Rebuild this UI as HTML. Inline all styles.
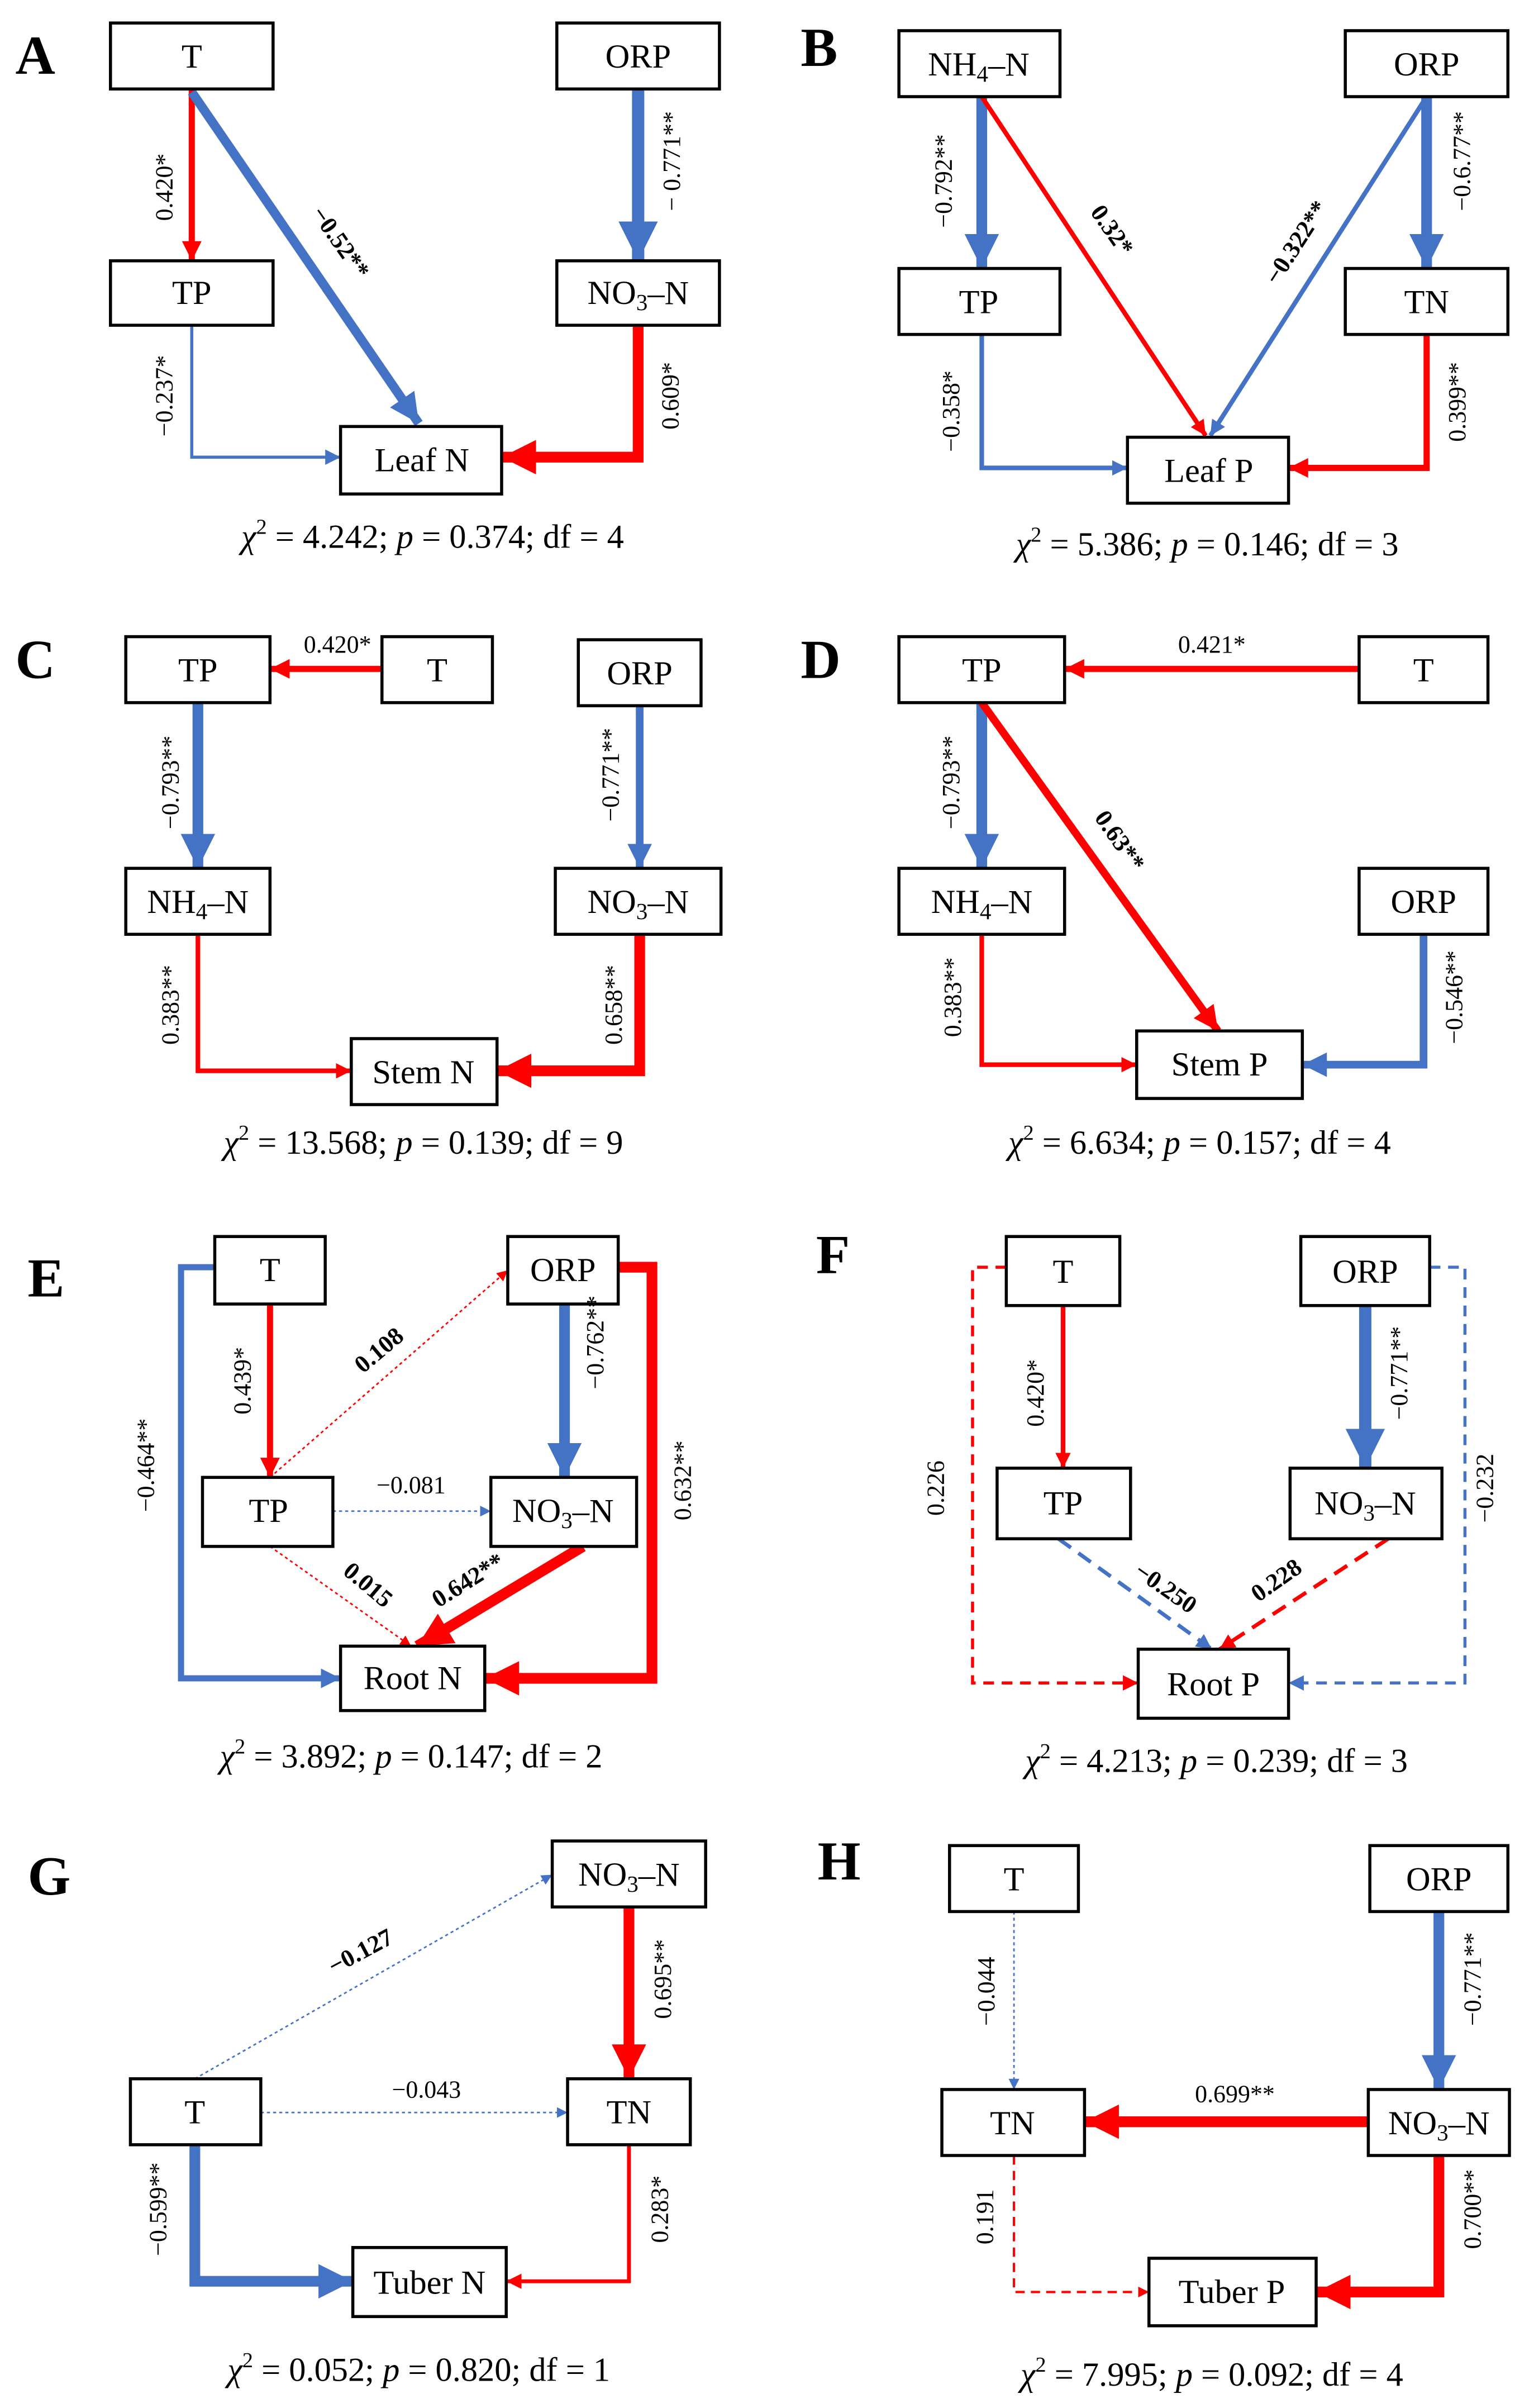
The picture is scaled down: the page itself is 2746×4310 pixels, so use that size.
<!DOCTYPE html>
<html><head><meta charset="utf-8"><style>
html,body{margin:0;padding:0;background:#fff}
svg{display:block}
text{font-family:"Liberation Serif",serif;fill:#000}
.bx{fill:#fff;stroke:#000;stroke-width:2}
.bt{font-size:22px;text-anchor:middle;dominant-baseline:central}
.lb{font-size:16px;text-anchor:middle;dominant-baseline:central}
.ch{font-size:22px;text-anchor:middle}
.pl{font-size:36px;font-weight:bold}
.r{stroke:#ff0000;fill:none}
.b{stroke:#4472c4;fill:none}
</style></head><body>
<svg width="2746" height="4310" viewBox="0 0 1000 1569.6" xmlns="http://www.w3.org/2000/svg" font-family="'Liberation Serif', serif">
<defs>
<marker id="rL" markerUnits="strokeWidth" markerWidth="3.2" markerHeight="3.2" refX="3.2" refY="1.6" orient="auto"><path d="M0,0L3.2,1.6L0,3.2z" fill="#ff0000"/></marker>
<marker id="bL" markerUnits="strokeWidth" markerWidth="3.2" markerHeight="3.2" refX="3.2" refY="1.6" orient="auto"><path d="M0,0L3.2,1.6L0,3.2z" fill="#4472c4"/></marker>
<marker id="rS" markerUnits="userSpaceOnUse" markerWidth="10" markerHeight="10" refX="10" refY="5" orient="auto"><path d="M0,0L10,5L0,10z" fill="#ff0000"/></marker>
<marker id="bS" markerUnits="userSpaceOnUse" markerWidth="10" markerHeight="10" refX="10" refY="5" orient="auto"><path d="M0,0L10,5L0,10z" fill="#4472c4"/></marker>
<marker id="rT" markerUnits="userSpaceOnUse" markerWidth="7" markerHeight="7" refX="7" refY="3.5" orient="auto"><path d="M0,0L7,3.5L0,7z" fill="#ff0000"/></marker>
<marker id="bT" markerUnits="userSpaceOnUse" markerWidth="7" markerHeight="7" refX="7" refY="3.5" orient="auto"><path d="M0,0L7,3.5L0,7z" fill="#4472c4"/></marker>
</defs>

<!-- Panel A -->
<text class="pl" x="10" y="48">A</text>
<polyline class="r" stroke-width="4" points="125,58 125,170" marker-end="url(#rL)"/>
<polyline class="b" stroke-width="6" points="125,60 273,276" marker-end="url(#bL)"/>
<polyline class="b" stroke-width="8" points="416,58 416,170" marker-end="url(#bL)"/>
<polyline class="b" stroke-width="2" points="125,212 125,298 222,298" marker-end="url(#bS)"/>
<polyline class="r" stroke-width="7" points="416,212 416,298 327,298" marker-end="url(#rL)"/>
<rect class="bx" x="72" y="15" width="106" height="43"/><text class="bt" x="125" y="37">T</text>
<rect class="bx" x="363" y="15" width="106" height="43"/><text class="bt" x="416" y="37">ORP</text>
<rect class="bx" x="72" y="170" width="106" height="42"/><text class="bt" x="125" y="191">TP</text>
<rect class="bx" x="363" y="170" width="106" height="42"/><text class="bt" x="416" y="191">NO<tspan font-size="15" dy="6">3</tspan><tspan dy="-6">–N</tspan></text>
<rect class="bx" x="222" y="278" width="105" height="44"/><text class="bt" x="275" y="300">Leaf N</text>
<text class="lb" transform="rotate(-90 107 122)" x="107" y="122">0.420*</text>
<text class="lb" font-weight="bold" transform="rotate(55 222 158)" x="222" y="158">−0.52**</text>
<text class="lb" transform="rotate(-90 438 105)" x="438" y="105">− 0.771**</text>
<text class="lb" transform="rotate(-90 107 258)" x="107" y="258">−0.237*</text>
<text class="lb" transform="rotate(-90 437 258)" x="437" y="258">0.609*</text>
<text class="ch" x="282" y="357"><tspan font-style="italic">χ</tspan><tspan font-size="14" dy="-9">2</tspan><tspan dy="9"> = 4.242; </tspan><tspan font-style="italic">p</tspan> = 0.374; df = 4</text>

<!-- Panel B -->
<text class="pl" x="522" y="43">B</text>
<polyline class="b" stroke-width="7" points="640,63 640,175" marker-end="url(#bL)"/>
<polyline class="r" stroke-width="3" points="640,63 786,284" marker-end="url(#rS)"/>
<polyline class="b" stroke-width="3" points="930,63 789,284" marker-end="url(#bS)"/>
<polyline class="b" stroke-width="7" points="930,63 930,175" marker-end="url(#bL)"/>
<polyline class="b" stroke-width="3" points="640,218 640,305 735,305" marker-end="url(#bS)"/>
<polyline class="r" stroke-width="4" points="930,218 930,305 840,305" marker-end="url(#rL)"/>
<rect class="bx" x="586" y="20" width="105" height="43"/><text class="bt" x="638" y="42">NH<tspan font-size="15" dy="6">4</tspan><tspan dy="-6">–N</tspan></text>
<rect class="bx" x="877" y="20" width="106" height="43"/><text class="bt" x="930" y="42">ORP</text>
<rect class="bx" x="586" y="175" width="105" height="43"/><text class="bt" x="638" y="197">TP</text>
<rect class="bx" x="877" y="175" width="106" height="43"/><text class="bt" x="930" y="197">TN</text>
<rect class="bx" x="735" y="285" width="105" height="43"/><text class="bt" x="788" y="307">Leaf P</text>
<text class="lb" transform="rotate(-90 615 118)" x="615" y="118">−0.792**</text>
<text class="lb" font-weight="bold" transform="rotate(55 725 150)" x="725" y="150">0.32*</text>
<text class="lb" font-weight="bold" transform="rotate(-57 845 158)" x="845" y="158">−0.322**</text>
<text class="lb" transform="rotate(-90 953 105)" x="953" y="105">−0.6.77**</text>
<text class="lb" transform="rotate(-90 620 268)" x="620" y="268">−0.358*</text>
<text class="lb" transform="rotate(-90 950 262)" x="950" y="262">0.399**</text>
<text class="ch" x="787" y="362"><tspan font-style="italic">χ</tspan><tspan font-size="14" dy="-9">2</tspan><tspan dy="9"> = 5.386; </tspan><tspan font-style="italic">p</tspan> = 0.146; df = 3</text>

<!-- Panel C -->
<text class="pl" x="10" y="442">C</text>
<polyline class="r" stroke-width="4" points="249,436 176,436" marker-end="url(#rL)"/>
<polyline class="b" stroke-width="7" points="129,458 129,566" marker-end="url(#bL)"/>
<polyline class="b" stroke-width="5" points="417,460 417,566" marker-end="url(#bL)"/>
<polyline class="r" stroke-width="3" points="129,609 129,698 229,698" marker-end="url(#rS)"/>
<polyline class="r" stroke-width="7" points="417,609 417,698 324,698" marker-end="url(#rL)"/>
<rect class="bx" x="82" y="415" width="94" height="43"/><text class="bt" x="129" y="437">TP</text>
<rect class="bx" x="249" y="415" width="72" height="43"/><text class="bt" x="285" y="437">T</text>
<rect class="bx" x="377" y="417" width="80" height="43"/><text class="bt" x="417" y="439">ORP</text>
<rect class="bx" x="82" y="566" width="94" height="43"/><text class="bt" x="129" y="588">NH<tspan font-size="15" dy="6">4</tspan><tspan dy="-6">–N</tspan></text>
<rect class="bx" x="362" y="566" width="108" height="43"/><text class="bt" x="416" y="588">NO<tspan font-size="15" dy="6">3</tspan><tspan dy="-6">–N</tspan></text>
<rect class="bx" x="229" y="677" width="95" height="43"/><text class="bt" x="276" y="699">Stem N</text>
<text class="lb" x="220" y="420">0.420*</text>
<text class="lb" transform="rotate(-90 111 510)" x="111" y="510">−0.793**</text>
<text class="lb" transform="rotate(-90 398 505)" x="398" y="505">−0.771**</text>
<text class="lb" transform="rotate(-90 111 655)" x="111" y="655">0.383**</text>
<text class="lb" transform="rotate(-90 400 655)" x="400" y="655">0.658**</text>
<text class="ch" x="276" y="752"><tspan font-style="italic">χ</tspan><tspan font-size="14" dy="-9">2</tspan><tspan dy="9"> = 13.568; </tspan><tspan font-style="italic">p</tspan> = 0.139; df = 9</text>

<!-- Panel D -->
<text class="pl" x="522" y="442">D</text>
<polyline class="r" stroke-width="4" points="886,436 694,436" marker-end="url(#rL)"/>
<polyline class="b" stroke-width="7" points="640,458 640,566" marker-end="url(#bL)"/>
<polyline class="r" stroke-width="5" points="640,458 794,672" marker-end="url(#rL)"/>
<polyline class="r" stroke-width="3" points="640,609 640,694 741,694" marker-end="url(#rS)"/>
<polyline class="b" stroke-width="5" points="928,609 928,694 849,694" marker-end="url(#bL)"/>
<rect class="bx" x="586" y="415" width="108" height="43"/><text class="bt" x="640" y="437">TP</text>
<rect class="bx" x="886" y="415" width="84" height="43"/><text class="bt" x="928" y="437">T</text>
<rect class="bx" x="586" y="566" width="108" height="43"/><text class="bt" x="640" y="588">NH<tspan font-size="15" dy="6">4</tspan><tspan dy="-6">–N</tspan></text>
<rect class="bx" x="886" y="566" width="84" height="43"/><text class="bt" x="928" y="588">ORP</text>
<rect class="bx" x="741" y="672" width="108" height="44"/><text class="bt" x="795" y="694">Stem P</text>
<text class="lb" x="790" y="420">0.421*</text>
<text class="lb" transform="rotate(-90 620 510)" x="620" y="510">−0.793**</text>
<text class="lb" font-weight="bold" transform="rotate(55 730 548)" x="730" y="548">0.63**</text>
<text class="lb" transform="rotate(-90 621 650)" x="621" y="650">0.383**</text>
<text class="lb" transform="rotate(-90 948 650)" x="948" y="650">−0.546**</text>
<text class="ch" x="782" y="752"><tspan font-style="italic">χ</tspan><tspan font-size="14" dy="-9">2</tspan><tspan dy="9"> = 6.634; </tspan><tspan font-style="italic">p</tspan> = 0.157; df = 4</text>

<!-- Panel E -->
<text class="pl" x="18" y="845">E</text>
<polyline class="b" stroke-width="4" points="140,826 118,826 118,1094 222,1094" marker-end="url(#bL)"/>
<polyline class="r" stroke-width="4" points="176,850 176,963" marker-end="url(#rL)"/>
<polyline class="r" stroke-width="1" stroke-dasharray="2,2" points="176,963 331,828" marker-end="url(#rT)"/>
<polyline class="b" stroke-width="7" points="368,850 368,963" marker-end="url(#bL)"/>
<polyline class="r" stroke-width="7" points="403,826 425,826 425,1094 316,1094" marker-end="url(#rL)"/>
<polyline class="b" stroke-width="1" stroke-dasharray="2,2" points="217,985 320,985" marker-end="url(#bT)"/>
<polyline class="r" stroke-width="1" stroke-dasharray="2,2" points="176,1008 268,1073" marker-end="url(#rT)"/>
<polyline class="r" stroke-width="7" points="380,1008 272,1073" marker-end="url(#rL)"/>
<rect class="bx" x="140" y="806" width="72" height="44"/><text class="bt" x="176" y="828">T</text>
<rect class="bx" x="331" y="806" width="72" height="44"/><text class="bt" x="367" y="828">ORP</text>
<rect class="bx" x="132" y="963" width="85" height="45"/><text class="bt" x="175" y="985">TP</text>
<rect class="bx" x="320" y="963" width="95" height="45"/><text class="bt" x="367" y="985">NO<tspan font-size="15" dy="6">3</tspan><tspan dy="-6">–N</tspan></text>
<rect class="bx" x="222" y="1073" width="94" height="42"/><text class="bt" x="269" y="1094">Root N</text>
<text class="lb" transform="rotate(-90 95 955)" x="95" y="955">−0.464**</text>
<text class="lb" transform="rotate(-90 158 900)" x="158" y="900">0.439*</text>
<text class="lb" font-weight="bold" transform="rotate(-40 247 880)" x="247" y="880">0.108</text>
<text class="lb" transform="rotate(-90 388 875)" x="388" y="875">−0.762**</text>
<text class="lb" transform="rotate(-90 445 965)" x="445" y="965">0.632**</text>
<text class="lb" x="268" y="968">−0.081</text>
<text class="lb" font-weight="bold" transform="rotate(40 240 1033)" x="240" y="1033">0.015</text>
<text class="lb" font-weight="bold" transform="rotate(-32 305 1030)" x="305" y="1030">0.642**</text>
<text class="ch" x="268" y="1152"><tspan font-style="italic">χ</tspan><tspan font-size="14" dy="-9">2</tspan><tspan dy="9"> = 3.892; </tspan><tspan font-style="italic">p</tspan> = 0.147; df = 2</text>

<!-- Panel F -->
<text class="pl" x="532" y="830">F</text>
<polyline class="r" stroke-width="2" stroke-dasharray="7,5" points="656,826 634,826 634,1097 742,1097" marker-end="url(#rS)"/>
<polyline class="r" stroke-width="3" points="693,851 693,957" marker-end="url(#rS)"/>
<polyline class="b" stroke-width="8" points="890,851 890,957" marker-end="url(#bL)"/>
<polyline class="b" stroke-width="2" stroke-dasharray="7,5" points="932,826 955,826 955,1097 840,1097" marker-end="url(#bS)"/>
<polyline class="b" stroke-width="2.5" stroke-dasharray="10,6" points="690,1003 790,1075" marker-end="url(#bS)"/>
<polyline class="r" stroke-width="2.5" stroke-dasharray="10,6" points="905,1003 795,1075" marker-end="url(#rS)"/>
<rect class="bx" x="656" y="806" width="74" height="45"/><text class="bt" x="693" y="829">T</text>
<rect class="bx" x="848" y="806" width="84" height="45"/><text class="bt" x="890" y="829">ORP</text>
<rect class="bx" x="650" y="957" width="87" height="46"/><text class="bt" x="693" y="980">TP</text>
<rect class="bx" x="841" y="957" width="99" height="46"/><text class="bt" x="890" y="980">NO<tspan font-size="15" dy="6">3</tspan><tspan dy="-6">–N</tspan></text>
<rect class="bx" x="742" y="1075" width="98" height="45"/><text class="bt" x="791" y="1098">Root P</text>
<text class="lb" transform="rotate(-90 610 970)" x="610" y="970">0.226</text>
<text class="lb" transform="rotate(-90 675 908)" x="675" y="908">0.420*</text>
<text class="lb" transform="rotate(-90 912 895)" x="912" y="895">−0.771**</text>
<text class="lb" transform="rotate(-90 968 970)" x="968" y="970">−0.232</text>
<text class="lb" font-weight="bold" transform="rotate(35 760 1035)" x="760" y="1035">−0.250</text>
<text class="lb" font-weight="bold" transform="rotate(-35 832 1030)" x="832" y="1030">0.228</text>
<text class="ch" x="793" y="1155"><tspan font-style="italic">χ</tspan><tspan font-size="14" dy="-9">2</tspan><tspan dy="9"> = 4.213; </tspan><tspan font-style="italic">p</tspan> = 0.239; df = 3</text>

<!-- Panel G -->
<text class="pl" x="18" y="1235">G</text>
<polyline class="b" stroke-width="1" stroke-dasharray="2,2" points="127,1355 360,1222" marker-end="url(#bT)"/>
<polyline class="r" stroke-width="7" points="410,1243 410,1355" marker-end="url(#rL)"/>
<polyline class="b" stroke-width="1" stroke-dasharray="2,2" points="170,1377 370,1377" marker-end="url(#bT)"/>
<polyline class="b" stroke-width="7" points="127,1398 127,1487 230,1487" marker-end="url(#bL)"/>
<polyline class="r" stroke-width="2.5" points="410,1398 410,1487 330,1487" marker-end="url(#rS)"/>
<rect class="bx" x="360" y="1200" width="100" height="43"/><text class="bt" x="410" y="1222">NO<tspan font-size="15" dy="6">3</tspan><tspan dy="-6">–N</tspan></text>
<rect class="bx" x="85" y="1355" width="85" height="43"/><text class="bt" x="127" y="1377">T</text>
<rect class="bx" x="370" y="1355" width="80" height="43"/><text class="bt" x="410" y="1377">TN</text>
<rect class="bx" x="230" y="1465" width="100" height="45"/><text class="bt" x="280" y="1488">Tuber N</text>
<text class="lb" font-weight="bold" transform="rotate(-28 235 1272)" x="235" y="1272">−0.127</text>
<text class="lb" transform="rotate(-90 432 1290)" x="432" y="1290">0.695**</text>
<text class="lb" x="278" y="1362">−0.043</text>
<text class="lb" transform="rotate(-90 103 1440)" x="103" y="1440">−0.599**</text>
<text class="lb" transform="rotate(-90 430 1440)" x="430" y="1440">0.283*</text>
<text class="ch" x="273" y="1552"><tspan font-style="italic">χ</tspan><tspan font-size="14" dy="-9">2</tspan><tspan dy="9"> = 0.052; </tspan><tspan font-style="italic">p</tspan> = 0.820; df = 1</text>

<!-- Panel H -->
<text class="pl" x="533" y="1225">H</text>
<polyline class="b" stroke-width="1" stroke-dasharray="2,2" points="661,1246 661,1362" marker-end="url(#bT)"/>
<polyline class="b" stroke-width="7" points="938,1246 938,1362" marker-end="url(#bL)"/>
<polyline class="r" stroke-width="7" points="892,1383 707,1383" marker-end="url(#rL)"/>
<polyline class="r" stroke-width="1.5" stroke-dasharray="6,4" points="661,1405 661,1494 749,1494" marker-end="url(#rT)"/>
<polyline class="r" stroke-width="7" points="938,1405 938,1494 858,1494" marker-end="url(#rL)"/>
<rect class="bx" x="619" y="1203" width="84" height="43"/><text class="bt" x="661" y="1225">T</text>
<rect class="bx" x="893" y="1203" width="90" height="43"/><text class="bt" x="938" y="1225">ORP</text>
<rect class="bx" x="614" y="1362" width="93" height="43"/><text class="bt" x="660" y="1384">TN</text>
<rect class="bx" x="892" y="1362" width="92" height="43"/><text class="bt" x="938" y="1384">NO<tspan font-size="15" dy="6">3</tspan><tspan dy="-6">–N</tspan></text>
<rect class="bx" x="749" y="1472" width="109" height="44"/><text class="bt" x="803" y="1494">Tuber P</text>
<text class="lb" transform="rotate(-90 643 1298)" x="643" y="1298">−0.044</text>
<text class="lb" transform="rotate(-90 960 1290)" x="960" y="1290">−0.771**</text>
<text class="lb" x="805" y="1365">0.699**</text>
<text class="lb" transform="rotate(-90 642 1445)" x="642" y="1445">0.191</text>
<text class="lb" transform="rotate(-90 960 1440)" x="960" y="1440">0.700**</text>
<text class="ch" x="790" y="1555"><tspan font-style="italic">χ</tspan><tspan font-size="14" dy="-9">2</tspan><tspan dy="9"> = 7.995; </tspan><tspan font-style="italic">p</tspan> = 0.092; df = 4</text>
</svg>
</body></html>
